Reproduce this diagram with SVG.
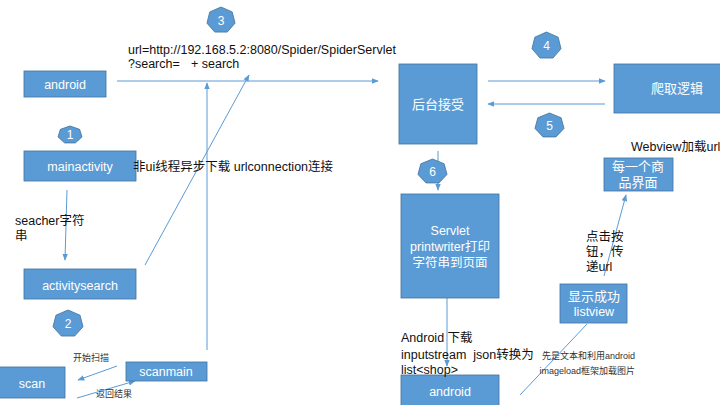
<svg xmlns="http://www.w3.org/2000/svg" xmlns:xlink="http://www.w3.org/1999/xlink" width="720" height="405" viewBox="0 0 720 405">
<defs>
<style>
.box{fill:#5B9BD5;stroke:#41719C;stroke-width:0.8}
.bt{fill:#fff;font-family:"Liberation Sans","Noto Sans CJK SC",sans-serif;font-size:12.5px;text-anchor:middle}
.ct{fill:#fff;font-family:"Noto Sans CJK SC",sans-serif;font-size:13px;text-anchor:middle}
.lbl{fill:#111;font-family:"Liberation Sans","Noto Sans CJK SC",sans-serif;font-size:12.5px}
.sm{fill:#333;font-family:"Liberation Sans","Noto Sans CJK SC",sans-serif;font-size:9px}
.ln{stroke:#5B9BD5;stroke-width:1;fill:none}
.num{fill:#fff;font-family:"Liberation Sans",sans-serif;font-size:12px;text-anchor:middle}
.hep{fill:#5B9BD5;stroke:#41719C;stroke-width:0.8;vector-effect:non-scaling-stroke}
</style>
<polygon id="h" points="0,-1 0.782,-0.623 0.975,0.223 0.434,0.901 -0.434,0.901 -0.975,0.223 -0.782,-0.623" vector-effect="non-scaling-stroke"/>
<marker id="a" viewBox="0 0 10 10" refX="9" refY="5" markerWidth="7" markerHeight="7" markerUnits="userSpaceOnUse" orient="auto">
<path d="M0,1 L10,5 L0,9 z" fill="#5B9BD5"/>
</marker>
</defs>
<rect width="720" height="405" fill="#fff"/>

<g id="connectors">
<line class="ln" x1="117" y1="81" x2="378" y2="81" marker-end="url(#a)"/>
<line class="ln" x1="207" y1="350" x2="207" y2="83" marker-end="url(#a)"/>
<line class="ln" x1="145" y1="265" x2="249" y2="75" marker-end="url(#a)"/>
<line class="ln" x1="67" y1="190" x2="65" y2="260" marker-end="url(#a)"/>
<line class="ln" x1="117" y1="366" x2="78" y2="380" marker-end="url(#a)"/>
<line class="ln" x1="77" y1="398" x2="135" y2="381" marker-end="url(#a)"/>
<line class="ln" x1="488" y1="81" x2="605" y2="81" marker-end="url(#a)"/>
<line class="ln" x1="605" y1="104" x2="488" y2="104" stroke-width="1.6" marker-end="url(#a)"/>
<line class="ln" x1="438" y1="151" x2="438" y2="190" marker-end="url(#a)"/>
<line class="ln" x1="447" y1="298" x2="447" y2="366" marker-end="url(#a)"/>
<line class="ln" x1="520" y1="395" x2="587" y2="324"/>
<line class="ln" x1="604" y1="276" x2="626" y2="195" marker-end="url(#a)"/>
</g>

<g id="n-android-top"><rect class="box" x="24" y="71" width="82" height="26"/><text class="bt" x="65" y="88.5">android</text></g>
<g id="n-mainactivity"><rect class="box" x="24" y="151" width="112" height="30"/><text class="bt" x="80" y="170.5">mainactivity</text></g>
<g id="n-activitysearch"><rect class="box" x="24" y="269" width="112" height="30"/><text class="bt" x="80" y="289.5">activitysearch</text></g>
<g id="n-scan"><rect class="box" x="-1" y="367" width="66" height="31"/><text class="bt" x="32" y="387.5">scan</text></g>
<g id="n-scanmain"><rect class="box" x="126" y="362" width="81" height="19"/><text class="bt" x="166" y="376">scanmain</text></g>
<g id="n-backend"><rect class="box" x="399" y="64" width="78" height="80"/><text class="ct" x="438" y="109">后台接受</text></g>
<g id="n-crawl"><rect class="box" x="614" y="64" width="110" height="49"/><text class="ct" x="677" y="93">爬取逻辑</text></g>
<g id="n-item"><rect class="box" x="604" y="158" width="69" height="33"/><text class="ct" x="638" y="171" font-size="10.5px">每一个商</text><text class="ct" x="638" y="187" font-size="10.5px">品界面</text></g>
<g id="n-servlet"><rect class="box" x="401" y="194" width="98" height="104"/><text class="bt" x="450" y="235">Servlet</text><text class="bt" x="450" y="251">printwriter打印</text><text class="bt" x="450" y="267">字符串到页面</text></g>
<g id="n-listview"><rect class="box" x="560" y="284" width="67" height="39"/><text class="ct" x="594" y="301">显示成功</text><text class="bt" x="594" y="315.5">listview</text></g>
<g id="n-android-bottom"><rect class="box" x="401" y="375" width="98" height="32"/><text class="bt" x="450" y="395.5">android</text></g>

<g id="badges">
<use xlink:href="#h" class="hep" transform="translate(221,20.2) scale(14.4,13.2)"/>
<text class="num" x="221" y="24.5">3</text>
<use xlink:href="#h" class="hep" transform="translate(70,134.9) scale(12.3,8.9)"/>
<text class="num" x="70" y="138.5">1</text>
<use xlink:href="#h" class="hep" transform="translate(68,323.7) scale(15.4,13.7)"/>
<text class="num" x="68" y="328">2</text>
<use xlink:href="#h" class="hep" transform="translate(546.5,45.7) scale(14.9,13.7)"/>
<text class="num" x="546.5" y="50">4</text>
<use xlink:href="#h" class="hep" transform="translate(549.5,125.6) scale(14.9,12.6)"/>
<text class="num" x="549.5" y="130">5</text>
<use xlink:href="#h" class="hep" transform="translate(432.5,171.6) scale(14.9,12.6)"/>
<text class="num" x="432.5" y="176">6</text>
</g>

<g id="labels">
<text class="lbl" x="128" y="54" font-size="10.8px">url=http://192.168.5.2:8080/Spider/SpiderServlet</text>
<text class="lbl" x="128" y="68" font-size="10.8px">?search=</text>
<text class="lbl" x="191" y="68" font-size="10.8px">+ search</text>
<text class="lbl" x="133" y="170.5" font-size="13px">非ui线程异步下载 urlconnection连接</text>
<text class="lbl" x="15" y="225" font-size="12px">seacher字符</text>
<text class="lbl" x="15" y="240" font-size="12px">串</text>
<text class="sm" x="73" y="361">开始扫描</text>
<text class="sm" x="96" y="397">返回结果</text>
<text class="lbl" x="631" y="151" font-size="12.5px">Webview加载url</text>
<text class="lbl" x="586" y="240.5">点击按</text>
<text class="lbl" x="586" y="255.5">钮，传</text>
<text class="lbl" x="586" y="271">递url</text>
<text class="lbl" x="401" y="341.5">Android 下载</text>
<text class="lbl" x="401" y="358.5" xml:space="preserve">inputstream  json转换为</text>
<text class="lbl" x="401" y="373.5">list&lt;shop&gt;</text>
<text class="sm" x="635" y="359" text-anchor="end">先是文本和利用android</text>
<text class="sm" x="635" y="374" text-anchor="end">imageload框架加载图片</text>
</g>
</svg>
